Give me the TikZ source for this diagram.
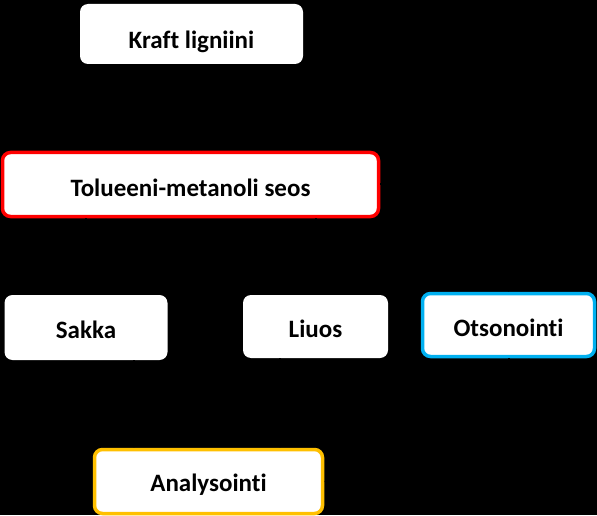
\documentclass[tikz,border=0pt]{standalone}
\usepackage{fontspec}
\setmainfont[RawFeature={-liga;-calt;-dlig}]{Carlito}
\usetikzlibrary{arrows.meta}
\definecolor{redb}{RGB}{255,0,0}
\definecolor{blueb}{RGB}{0,176,240}
\definecolor{orangeb}{RGB}{255,192,0}
\tikzset{
  box/.style={rectangle, rounded corners=8pt, fill=white, inner sep=0pt},
  lbl/.style={font=\bfseries\fontsize{25}{29}\selectfont, text=black, inner sep=0pt, text height=16pt, text depth=0pt},
  conn/.style={draw=black, line width=2pt, -{Triangle[length=8pt,width=8pt]}}
}
\begin{document}
\begin{tikzpicture}[x=1pt,y=1pt]
\fill[black] (0,0) rectangle (597,515);
\useasboundingbox (0,0) rectangle (597,515);
% boxes
\node[box, minimum width=223pt, minimum height=60pt] (kraft) at (191.5,481) {};
\node[box, draw=redb, line width=3.5pt, minimum width=376pt, minimum height=64pt] (tol) at (190.5,330.5) {};
\node[box, minimum width=163pt, minimum height=65pt] (sakka) at (86,187.5) {};
\node[box, minimum width=145pt, minimum height=63pt] (liuos) at (315.5,188.5) {};
\node[box, draw=blueb, line width=3.5pt, minimum width=172pt, minimum height=63pt] (ots) at (508.5,190) {};
\node[box, draw=orangeb, line width=3.5pt, minimum width=228pt, minimum height=64pt] (ana) at (208.5,33.5) {};
% labels
\node[lbl] (kraftt) at ([yshift=-7pt]kraft.center) {Kraft ligniini};
\node[lbl] (tolt) at ([yshift=-3.5pt]tol.center) {Tolueeni-metanoli seos};
\node[lbl] (sakkat) at ([yshift=-3pt]sakka.center) {Sakka};
\node[lbl] (liuost) at ([yshift=-3pt]liuos.center) {Liuos};
\node[lbl] (otst) at ([yshift=-3pt]ots.center) {Otsonointi};
\node[lbl] (anat) at ([yshift=-2pt]ana.center) {Analysointi};
% connectors (black on black, as in the reference)
\coordinate (anaL) at ([xshift=-74.5pt]ana.north);
\coordinate (anaR) at ([xshift=71.5pt]ana.north);
\draw[conn] (kraft.south) -- (kraft.south |- tol.north);
\draw[conn] (tol.south -| sakka.north) -- (sakka.north);
\draw[conn] (tol.south -| liuos.north) -- (liuos.north);
\draw[conn] (tol.east) -| (ots.north);
\draw[conn] (sakka.south -| anaL) -- (anaL);
\draw[conn] (liuos.south -| anaR) -- (anaR);
\draw[conn] (ots.south) |- (ana.east);
\end{tikzpicture}
\end{document}
